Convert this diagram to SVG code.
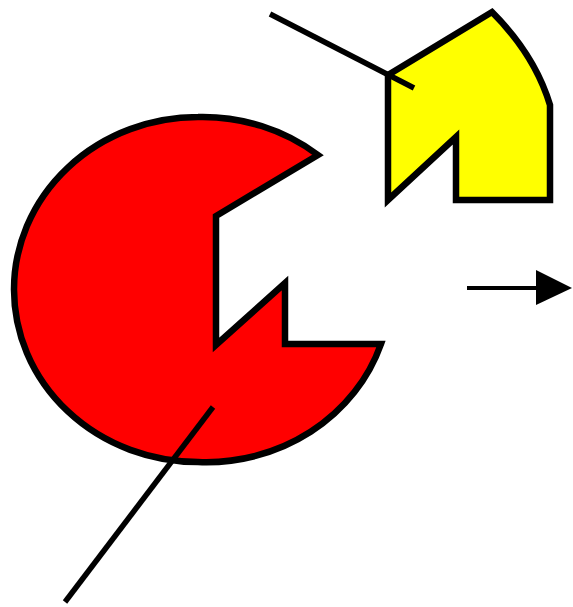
<svg xmlns="http://www.w3.org/2000/svg" width="573" height="607" viewBox="0 0 573 607">
<style>
.shape{stroke:#000;stroke-width:6.5;stroke-linejoin:miter}
.ln{stroke:#000;stroke-width:5.5;fill:none;stroke-linecap:butt}
</style>
<rect width="573" height="607" fill="#fff"/>
<g id="red">
<path class="shape" fill="#ff0000" d="M318,155 L216,216 L216,345 L285,283 L285,344 L381,344 A184,172.5 0 0 1 198,462 A184,172.5 0 0 1 14,289.5 A184,172.5 0 0 1 198,117 A184,172.5 0 0 1 318,155 Z"/>
</g>
<g id="yellow">
<path class="shape" fill="#ffff00" d="M388,75 L492,12 Q535,55 550,105 L550,200 L456,200 L456,137 L388,200 Z"/>
</g>
<g id="lines">
<line class="ln" x1="65" y1="602" x2="213" y2="407"/>
<line class="ln" x1="270" y1="14" x2="414" y2="88"/>
<line x1="467" y1="288" x2="540" y2="288" stroke="#000" stroke-width="4"/>
<polygon points="536,270 572,288 536,305" fill="#000"/>
</g>
</svg>
